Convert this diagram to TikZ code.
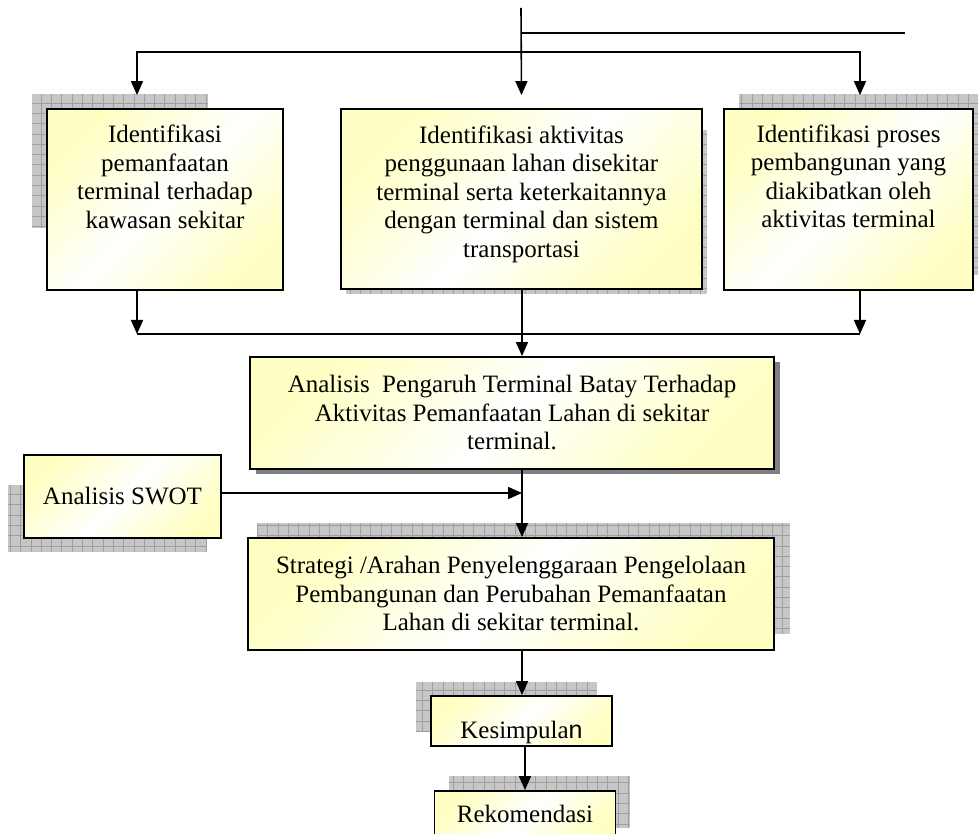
\documentclass[tikz,border=0pt]{standalone}
\usepackage{fontspec}
\setmainfont{Liberation Serif}
\newfontfamily\sansn{Liberation Sans}
\usetikzlibrary{arrows.meta}

\definecolor{boxyellow}{RGB}{255,255,196}
\definecolor{gridfill}{RGB}{198,198,198}
\definecolor{gridline}{RGB}{158,158,158}
\definecolor{dropgray}{RGB}{128,128,128}

% text block that starts a fixed distance below the top edge of its box
\newcommand\toptext[4]{\parbox[c][#2][t]{#1}{\centering\vspace*{#3}#4\par}}
% checkered drop shadow with a fine grid
\newcommand\gridshadow[2]{%
  \fill[gridfill] #1 rectangle #2;
  \begin{scope}
    \clip #1 rectangle #2;
    \draw[gridline, line width=0.7pt, step=10.3pt] #1 grid #2;
  \end{scope}}

\tikzset{
  flowbox/.style={draw=black, line width=1.8pt, inner sep=0pt,
    top color=boxyellow, bottom color=boxyellow, middle color=white,
    shading angle=45, align=center,
    font=\fontsize{25pt}{28.5pt}\selectfont},
  conn/.style={line width=1.6pt},
  arr/.style={conn, -{Triangle[length=14pt,width=12pt]}},
}

\begin{document}
\begin{tikzpicture}[x=1pt, y=-1pt]
\clip (0,0) rectangle (978,834);

% shadows
\gridshadow{(32,94)}{(208,228)}
\gridshadow{(346,130)}{(707,294)}
\gridshadow{(739,94)}{(988,275)}
\fill[dropgray] (256,362) rectangle (780,474);
\gridshadow{(8,485)}{(207,552)}
\gridshadow{(257,523)}{(790,634)}
\gridshadow{(416,682)}{(597,732)}
\gridshadow{(449,776)}{(630,828)}

% boxes
\node[flowbox, minimum width=236pt, minimum height=181pt] (idl) at (165,199.5)
  {\toptext{230pt}{181pt}{16pt}{Identifikasi\\pemanfaatan\\terminal terhadap\\kawasan sekitar}};
\node[flowbox, minimum width=361pt, minimum height=180pt] (idm) at (521.5,199)
  {\toptext{355pt}{180pt}{16.5pt}{Identifikasi aktivitas\\penggunaan lahan disekitar\\terminal serta keterkaitannya\\dengan terminal dan sistem\\transportasi}};
\node[flowbox, minimum width=249pt, minimum height=181pt] (idr) at (848.5,199.5)
  {\toptext{243pt}{181pt}{15.5pt}{Identifikasi proses\\pembangunan yang\\diakibatkan oleh\\aktivitas terminal}};
\node[flowbox, minimum width=524pt, minimum height=112pt] (ana) at (512,413)
  {Analisis\ \ Pengaruh Terminal Batay Terhadap\\Aktivitas Pemanfaatan Lahan di sekitar\\terminal.};
\node[flowbox, minimum width=197pt, minimum height=83pt] (swot) at (122.5,496.5)
  {Analisis SWOT};
\node[flowbox, minimum width=526pt, minimum height=112pt] (str) at (511,594)
  {Strategi /Arahan Penyelenggaraan Pengelolaan\\Pembangunan dan Perubahan Pemanfaatan\\Lahan di sekitar terminal.};
\node[flowbox, minimum width=181pt, minimum height=50pt] (kes) at (521.5,721)
  {\toptext{175pt}{50pt}{25pt}{Kesimpula{\sansn n}}};
\node[flowbox, minimum width=181pt, minimum height=52pt] (rek) at (525,817)
  {\toptext{175pt}{52pt}{14pt}{Rekomendasi}};

% connectors
\coordinate (src) at (521,8);
\coordinate (feed) at (521,33);
\coordinate (tapR) at (905,33);
\coordinate (split) at (521,52);
\coordinate (merge) at (522,334);
\coordinate (spine) at (522,0);

\draw[conn] (feed) -- (tapR);
\draw[arr] (src) -- ([yshift=13pt]idm.north);
\draw[arr] (split) -| ([xshift=-28pt,yshift=13pt]idl.north);
\draw[arr] (split) -| ([xshift=11.5pt,yshift=13pt]idr.north);

\draw[arr] ([xshift=-28pt]idl.south) -- ([xshift=-28pt]idl.south |- merge);
\draw[arr] ([xshift=11.5pt]idr.south) -- ([xshift=11.5pt]idr.south |- merge);
\draw[conn] ([xshift=-28pt]idl.south |- merge) -- ([xshift=11.5pt]idr.south |- merge);
\draw[arr] (spine |- idm.south) -- (spine |- ana.north);

\draw[arr] (spine |- ana.south) -- (spine |- str.north);
\draw[arr] ([yshift=3.5pt]swot.east) -- ([yshift=3.5pt]swot.east -| spine);
\draw[arr] (spine |- str.south) -- (spine |- kes.north);
\draw[arr] (rek.north |- kes.south) -- (rek.north);
\end{tikzpicture}
\end{document}
